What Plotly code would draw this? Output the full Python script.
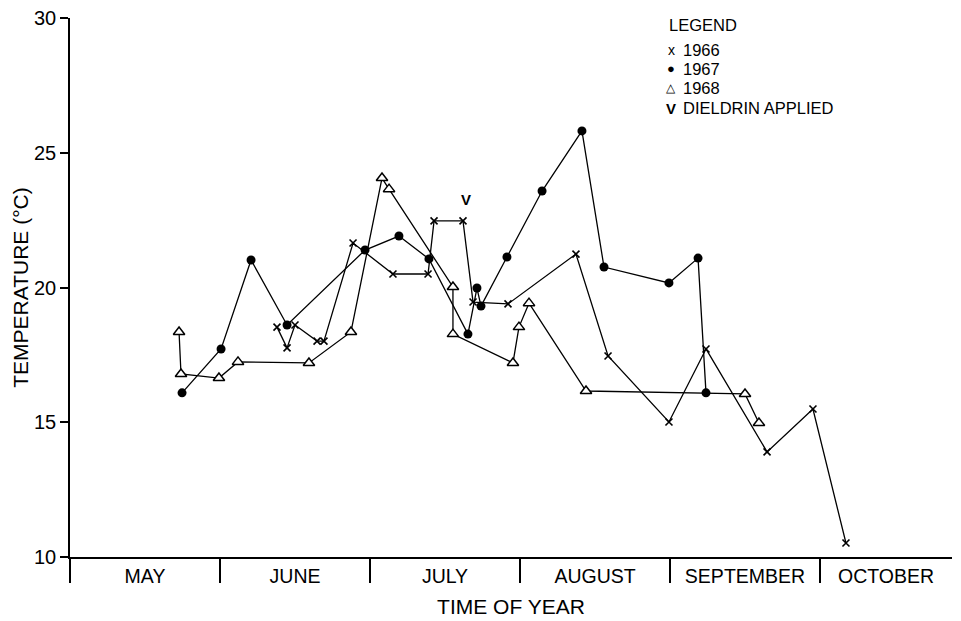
import plotly.graph_objects as go

# x = month number with fraction of month (5 = 1 May, 6 = 1 June, ...)
x_1966 = [6.38, 6.447, 6.50, 6.647, 6.693, 6.887, 7.153, 7.387, 7.427, 7.62,
          7.687, 7.92, 8.373, 8.587, 8.993, 9.24, 9.647, 9.953, 10.173]
t_1966 = [18.53, 17.76, 18.61, 18.01, 18.01, 21.65, 20.50, 20.50, 22.47, 22.47,
          19.46, 19.39, 21.24, 17.46, 15.01, 17.72, 13.90, 15.49, 10.52]

x_1967 = [5.747, 6.007, 6.207, 6.447, 6.967, 7.193, 7.393, 7.653, 7.713, 7.74,
          7.913, 8.147, 8.413, 8.56, 8.993, 9.187, 9.24]
t_1967 = [16.09, 17.72, 21.02, 18.61, 21.39, 21.91, 21.06, 18.27, 19.98, 19.31,
          21.13, 23.58, 25.81, 20.76, 20.17, 21.09, 16.09]

x_1968 = [5.727, 5.74, 5.993, 6.12, 6.593, 6.873, 7.08, 7.127, 7.553, 7.553,
          7.953, 7.993, 8.06, 8.44, 9.50, 9.593]
t_1968 = [18.35, 16.79, 16.64, 17.24, 17.20, 18.35, 24.06, 23.65, 20.02, 18.27,
          17.20, 18.53, 19.42, 16.16, 16.05, 14.97]

dieldrin_x = [7.64]
dieldrin_t = [23.2]

month_bounds = [5, 6, 7, 8, 9, 10]
month_label_pos = [5.5, 6.5, 7.5, 8.5, 9.5, 10.44]
month_labels = ["MAY", "JUNE", "JULY", "AUGUST", "SEPTEMBER", "OCTOBER"]
y_ticks = [10, 15, 20, 25, 30]
y_tick_labels = ["10", "15", "20", "25", "30"]

FONT = "Liberation Sans, Arial, sans-serif"
LW = 1.3

# page offset (browser body margin) and target plot area in screenshot pixels
OFF = 8
L, R, T, B = 70, 952, 18, 557
W, H = 961 - OFF, 621 - OFF

fig = go.Figure()
fig.add_trace(go.Scatter(
    x=x_1966, y=t_1966, mode="lines+markers", name="1966",
    line=dict(color="black", width=LW),
    marker=dict(symbol="x-thin", size=7, color="black", line=dict(color="black", width=1.6)),
    showlegend=False))
fig.add_trace(go.Scatter(
    x=x_1967, y=t_1967, mode="lines+markers", name="1967",
    line=dict(color="black", width=LW),
    marker=dict(symbol="circle", size=9, color="black"),
    showlegend=False))
fig.add_trace(go.Scatter(
    x=x_1968, y=t_1968, mode="lines+markers", name="1968",
    line=dict(color="black", width=LW),
    marker=dict(symbol="triangle-up", size=10, color="white", line=dict(color="black", width=1.5)),
    showlegend=False))
fig.add_trace(go.Scatter(
    x=dieldrin_x, y=dieldrin_t, mode="text", text=["<b>V</b>"], name="DIELDRIN APPLIED",
    textfont=dict(family=FONT, size=15, color="black"), showlegend=False))

# Legend (text based)
def px_x(p):
    return (p - L) / (R - L)

def px_y(p):
    return (B - p) / (B - T)

fig.add_annotation(x=px_x(667), y=px_y(25.5), xref="paper", yref="paper", text="LEGEND",
                   showarrow=False, xanchor="left", yanchor="middle",
                   font=dict(family=FONT, size=16.5, color="black"))
legend_items = [("x", "1966", 50, 14), ("●", "1967", 69, 13), ("△", "1968", 88, 12),
                ("<b>V</b>", "DIELDRIN APPLIED", 108, 15)]
for sym, lab, yy, fs in legend_items:
    fig.add_annotation(x=px_x(671), y=px_y(yy), xref="paper", yref="paper", text=sym,
                       showarrow=False, xanchor="center", yanchor="middle",
                       font=dict(family=FONT, size=fs, color="black"))
    fig.add_annotation(x=px_x(681), y=px_y(yy), xref="paper", yref="paper", text=lab,
                       showarrow=False, xanchor="left", yanchor="middle",
                       font=dict(family=FONT, size=16.5, color="black"))

fig.update_xaxes(
    range=[5, 10.88], showgrid=False, zeroline=False, automargin=False,
    showline=True, linecolor="black", linewidth=1.5,
    tickmode="array", tickvals=month_label_pos, ticktext=month_labels, ticks="",
    ticklabelstandoff=1, ticklabeloverflow="allow",
    tickfont=dict(family=FONT, size=19.5, color="black"),
    minor=dict(tickmode="array", tickvals=month_bounds, ticks="outside", ticklen=24,
               tickwidth=1.5, tickcolor="black", showgrid=False),
    title=dict(text="TIME OF YEAR", font=dict(family=FONT, size=21, color="black"), standoff=13),
)
fig.update_yaxes(
    range=[10, 30], showgrid=False, zeroline=False, automargin=False,
    showline=True, linecolor="black", linewidth=1.5,
    tickmode="array", tickvals=y_ticks, ticktext=y_tick_labels,
    ticks="outside", ticklen=8, tickwidth=1.5, tickcolor="black",
    ticklabeloverflow="allow",
    tickfont=dict(family=FONT, size=20, color="black"),
    title=dict(text="TEMPERATURE (°C)", font=dict(family=FONT, size=21, color="black"), standoff=0),
)
fig.update_layout(
    width=W, height=H,
    margin=dict(l=L - OFF, r=W + OFF - R, t=T - OFF, b=H + OFF - B),
    paper_bgcolor="white", plot_bgcolor="white",
    font=dict(family=FONT, color="black"),
)
fig.write_html("out.html")
